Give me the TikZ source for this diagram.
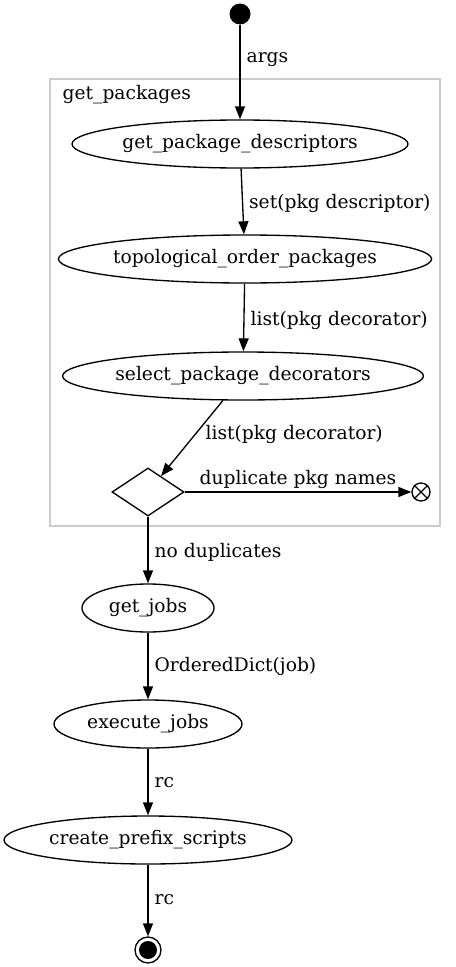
\documentclass[tikz,border=0pt]{standalone}
\usepackage{fontspec}
\setmainfont{DejaVu Serif}
\usetikzlibrary{shapes.geometric,arrows.meta}
\definecolor{clustergray}{RGB}{204,204,204}
\tikzset{
  state/.style={draw, ellipse, minimum height=36pt, inner sep=0pt},
  lbl/.style={anchor=west, inner sep=0pt, xshift=4.5pt, yshift=-2pt},
  flow/.style={-{Triangle[length=9.75pt,width=7.5pt]}},
}
\begin{document}
\begin{tikzpicture}[x=0.75pt, y=-0.75pt, font=\fontsize{14pt}{17pt}\selectfont, line width=1pt]
\useasboundingbox (0,0) rectangle (456,967);
% cluster
\draw[clustergray] (50,79) rectangle (440,526);
\node[anchor=west, inner sep=0pt] (cluster) at (62,95) {get\_packages};
% nodes
\node[circle, fill, minimum size=15.75pt, inner sep=0pt] (start) at (240,14) {};
\node[state, minimum width=252pt] (descr) at (240,144) {get\_package\_descriptors};
\node[state, minimum width=277.5pt] (topo) at (245,259) {topological\_order\_packages};
\node[state, minimum width=270pt] (select) at (243,376) {select\_package\_decorators};
\node[diamond, draw, aspect=1.5, minimum width=54pt, minimum height=36pt, inner sep=0pt] (check) at (148,492) {};
\node[circle, draw, minimum size=13.5pt, inner sep=0pt] (fail) at (421,492) {};
\draw (fail.45) -- (fail.225) (fail.135) -- (fail.315);
\node[state, minimum width=99pt] (jobs) at (148,608) {get\_jobs};
\node[state, minimum width=141pt] (exec) at (148,724) {execute\_jobs};
\node[state, minimum width=216pt] (prefix) at (148,840) {create\_prefix\_scripts};
\node[circle, draw, minimum size=19.5pt, inner sep=0pt] (stop) at (148,950) {};
\fill (stop.center) circle (6.75pt);
% edges
\draw[flow] (start) -- node[lbl, pos=0.34] (l1) {args} (descr);
\draw[flow] (descr) -- node[lbl, pos=0.49] (l2) {set(pkg descriptor)} (topo);
\draw[flow] (topo) -- node[lbl, pos=0.51] (l3) {list(pkg decorator)} (select);
\draw[flow] (select) -- node[lbl, pos=0.42, xshift=1.5pt] (l4) {list(pkg decorator)} (check);
\draw[flow] (check) -- node[above=2pt, inner sep=0pt] (l5) {duplicate pkg names} (fail);
\draw[flow] (check) -- node[lbl, pos=0.49] (l6) {no duplicates} (jobs);
\draw[flow] (jobs) -- node[lbl, pos=0.47] (l7) {OrderedDict(job)} (exec);
\draw[flow] (exec) -- node[lbl, pos=0.47] (l8) {rc} (prefix);
\draw[flow] (prefix) -- node[lbl, pos=0.45] (l9) {rc} (stop);
\end{tikzpicture}
\end{document}
